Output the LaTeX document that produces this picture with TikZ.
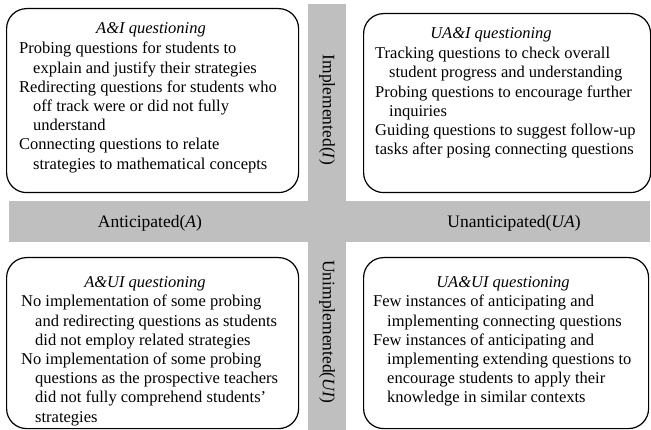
\documentclass[tikz,border=0pt]{standalone}
\usepackage{fontspec}
\setmainfont{Liberation Serif}
\usetikzlibrary{positioning}

\definecolor{axisgray}{RGB}{191,191,191}
% second and later lines of an entry
\newcommand{\ind}{\hspace*{14pt}}

\begin{document}
\begin{tikzpicture}
  [x=1pt,y=-1pt,
   every node/.style={font=\fontsize{16.5}{19.2}\selectfont},
   quadrant/.style={draw,line width=1.2pt,rounded corners=20pt,anchor=north west,inner sep=0pt},
   heading/.style={font=\fontsize{16.5}{19.2}\selectfont\itshape,inner sep=0pt},
   entries/.style={anchor=north west,align=left,inner sep=0pt},
   axis label/.style={font=\fontsize{17.5}{20}\selectfont,inner sep=0pt}]
  \useasboundingbox (0,0) rectangle (651,430);

  % the two gray axes
  \fill[axisgray] (9,201) rectangle (650,242);
  \fill[axisgray] (308,4) rectangle (346,430);

  \node (horizA) [axis label] at (150,223) {Anticipated(\textit{A})};
  \node (horizUA) [axis label] at (514,223) {Unanticipated(\textit{UA})};
  \node (vertI) [axis label,rotate=-90] at (327,110) {Implemented(\textit{I})};
  \node (vertUI) [axis label,rotate=-90] at (327,332) {Unimplemented(\textit{UI})};

  % quadrants
  \node (ai) [quadrant,minimum width=292pt,minimum height=184pt] at (6,8) {};
  \node (uai) [quadrant,minimum width=287pt,minimum height=179pt] at (363,13) {};
  \node (aui) [quadrant,minimum width=292pt,minimum height=171pt] at (6,257) {};
  \node (uaui) [quadrant,minimum width=285pt,minimum height=171pt] at (363,257) {};

  \node (aiHead) [heading] at (151,30) {A\&I questioning};
  \node (uaiHead) [heading] at (491,35) {UA\&I questioning};
  \node (auiHead) [heading] at (145,284) {A\&UI questioning};
  \node (uauiHead) [heading] at (503,284) {UA\&UI questioning};

  \node (aiList) [entries] at (19,42) {%
    Probing questions for students to\\
    \ind explain and justify their strategies\\
    Redirecting questions for students who\\
    \ind off track were or did not fully\\
    \ind understand\\
    Connecting questions to relate\\
    \ind strategies to mathematical concepts};
  \node (uaiList) [entries] at (375,47) {%
    Tracking questions to check overall\\
    \ind student progress and understanding\\
    Probing questions to encourage further\\
    \ind inquiries\\
    Guiding questions to suggest follow-up\\
    tasks after posing connecting questions};
  \node (auiList) [entries] at (21,295) {%
    No implementation of some probing\\
    \ind and redirecting questions as students\\
    \ind did not employ related strategies\\
    No implementation of some probing\\
    \ind questions as the prospective teachers\\
    \ind did not fully comprehend students'\\
    \ind strategies};
  \node (uauiList) [entries] at (373,295) {%
    Few instances of anticipating and\\
    \ind implementing connecting questions\\
    Few instances of anticipating and\\
    \ind implementing extending questions to\\
    \ind encourage students to apply their\\
    \ind knowledge in similar contexts};
\end{tikzpicture}
\end{document}
